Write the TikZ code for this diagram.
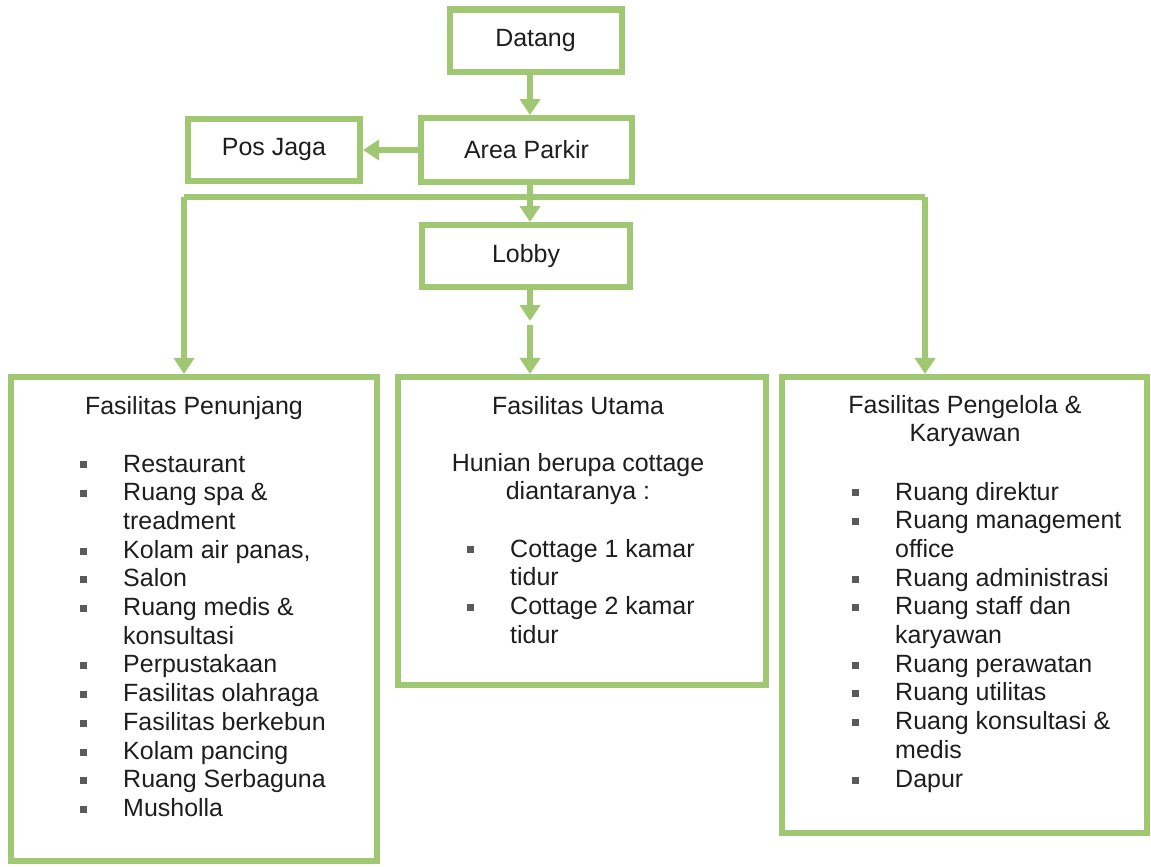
\documentclass[tikz,border=0pt]{standalone}
\usepackage{fontspec}
\setmainfont{Liberation Sans}
\usepackage{tikz}
\usetikzlibrary{positioning, arrows.meta, calc}
\usepackage{xcolor}
\definecolor{daunhijau}{RGB}{160, 200, 115}
\definecolor{tinta}{RGB}{30, 30, 30}
\definecolor{butirabu}{RGB}{90, 90, 90}
\newcommand{\butir}{\makebox[1.29cm][l]{\textcolor{butirabu}{\rule[3pt]{6pt}{6pt}}}}

\tikzset{
  kotak/.style={draw=daunhijau, line width=1.8mm, fill=white, inner sep=0pt},
  teks/.style={inner sep=0pt, text=tinta, font=\fontsize{21.3pt}{24.5pt}\selectfont},
  garis/.style={draw=daunhijau, line width=1.6mm},
  panah/.style={garis, -{Triangle[length=4.8mm, width=6mm]}}
}

\begin{document}
\begin{tikzpicture}[x=0.03cm, y=-0.03cm]
  \useasboundingbox (0,0) rectangle (1151,866);

  \node[kotak, teks, minimum width=5.16cm, minimum height=1.86cm] (datang) at (535.5,40.5) {Datang};
  \node[kotak, teks, minimum width=6.33cm, minimum height=1.92cm] (parkir) at (526.5,150) {Area Parkir};
  \node[kotak, teks, minimum width=5.16cm, minimum height=1.86cm] (posjaga) at (274,150) {Pos Jaga};
  \node[kotak, teks, minimum width=6.24cm, minimum height=1.86cm] (lobby) at (526,256) {Lobby};

  \node[kotak, minimum width=10.98cm, minimum height=14.52cm] (penunjang) at (194,619) {};
  \node[kotak, minimum width=11.04cm, minimum height=9.24cm] (utama) at (582,531) {};
  \node[kotak, minimum width=10.95cm, minimum height=13.68cm] (pengelola) at (964.5,605) {};

  \coordinate (cabang) at (530,197);
  \coordinate (kiri) at (184,197);
  \coordinate (kanan) at (925,197);
  \coordinate (putusA) at (530,321);
  \coordinate (putusB) at (530,325);

  % alur utama
  \draw[panah] (datang.south -| cabang) -- (parkir.north -| cabang);
  \draw[panah] (parkir.west) -- (parkir.west -| posjaga.east);
  \draw[garis] (kiri) -- (kanan);
  \draw[panah] (parkir.south -| cabang) -- (lobby.north -| cabang);
  \draw[panah] (kiri) -- (kiri |- penunjang.north);
  \draw[panah] (kanan) -- (kanan |- pengelola.north);
  \draw[panah] (lobby.south -| cabang) -- (putusA);
  \draw[panah] (putusB) -- (utama.north -| cabang);

  % isi kotak
  \node[teks, anchor=base] (judulPenunjang) at (194,414) {Fasilitas Penunjang};
  \node[teks, anchor=base west] (isiPenunjang) at (80,472) {%
    \begin{tabular}[t]{@{}l@{}l@{}}
      \butir & Restaurant\\
      \butir & Ruang spa \&\\
             & treadment\\
      \butir & Kolam air panas,\\
      \butir & Salon\\
      \butir & Ruang medis \&\\
             & konsultasi\\
      \butir & Perpustakaan\\
      \butir & Fasilitas olahraga\\
      \butir & Fasilitas berkebun\\
      \butir & Kolam pancing\\
      \butir & Ruang Serbaguna\\
      \butir & Musholla
    \end{tabular}};

  \node[teks, anchor=base] (judulUtama) at (578,414) {Fasilitas Utama};
  \node[teks, anchor=base] (pengantarUtama) at (578,471) {%
    \begin{tabular}[t]{@{}c@{}}
      Hunian berupa cottage\\
      diantaranya :
    \end{tabular}};
  \node[teks, anchor=base west] (isiUtama) at (467,557) {%
    \begin{tabular}[t]{@{}l@{}l@{}}
      \butir & Cottage 1 kamar\\
             & tidur\\
      \butir & Cottage 2 kamar\\
             & tidur
    \end{tabular}};

  \node[teks, anchor=base] (judulPengelola) at (965,413) {%
    \begin{tabular}[t]{@{}c@{}}
      Fasilitas Pengelola \&\\
      Karyawan
    \end{tabular}};
  \node[teks, anchor=base west] (isiPengelola) at (852,500) {%
    \begin{tabular}[t]{@{}l@{}l@{}}
      \butir & Ruang direktur\\
      \butir & Ruang management\\
             & office\\
      \butir & Ruang administrasi\\
      \butir & Ruang staff dan\\
             & karyawan\\
      \butir & Ruang perawatan\\
      \butir & Ruang utilitas\\
      \butir & Ruang konsultasi \&\\
             & medis\\
      \butir & Dapur
    \end{tabular}};
\end{tikzpicture}
\end{document}
